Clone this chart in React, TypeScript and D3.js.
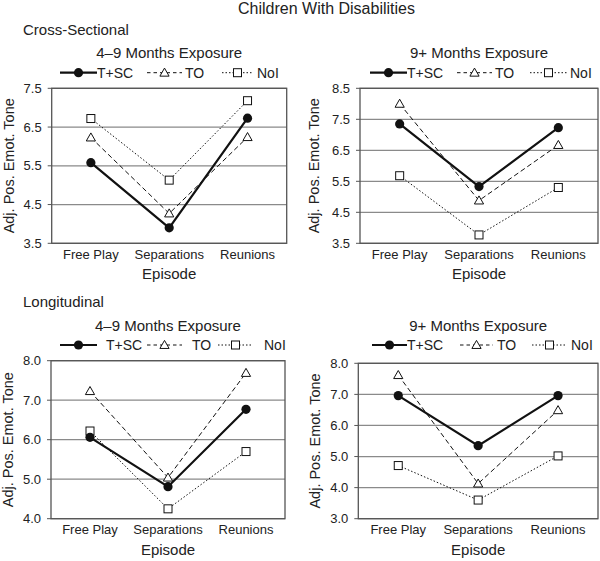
import React from "react";
import * as d3 from "d3";

const episodes = ["Free Play", "Separations", "Reunions"];
const seriesNames = ["T+SC", "TO", "NoI"];

// Cross-sectional, 4–9 months
const cs49_TSC = [5.58, 3.9, 6.73];
const cs49_TO = [6.23, 4.27, 6.24];
const cs49_NoI = [6.72, 5.13, 7.18];
// Cross-sectional, 9+ months
const cs9_TSC = [7.35, 5.33, 7.23];
const cs9_TO = [8.0, 4.88, 6.67];
const cs9_NoI = [5.68, 3.77, 5.3];
// Longitudinal, 4–9 months
const lg49_TSC = [6.06, 4.81, 6.77];
const lg49_TO = [7.23, 5.04, 7.69];
const lg49_NoI = [6.22, 4.25, 5.7];
// Longitudinal, 9+ months
const lg9_TSC = [6.96, 5.35, 6.96];
const lg9_TO = [7.62, 4.13, 6.49];
const lg9_NoI = [4.71, 3.6, 5.02];

const ticks1 = [3.5, 4.5, 5.5, 6.5, 7.5];
const ticks2 = [3.5, 4.5, 5.5, 6.5, 7.5, 8.5];
const ticks3 = [4.0, 5.0, 6.0, 7.0, 8.0];
const ticks4 = [3.0, 4.0, 5.0, 6.0, 7.0, 8.0];

const mainTitle = "Children With Disabilities";
const panelTitles = ["4\u20139 Months Exposure", "9+ Months Exposure", "4\u20139 Months Exposure", "9+ Months Exposure"];
const sectionTitles = ["Cross-Sectional", "Longitudinal"];
const yLabel = "Adj. Pos. Emot. Tone";
const xLabel = "Episode";

const FONT = "'Liberation Sans', Arial, Helvetica, sans-serif";

type Layout = {
  left: number; right: number; top: number; bottom: number;
  titleY: number; legendY: number; yLabelX: number;
  legend: { x0: number; x1: number; tx: number }[];
};

const panels = [
  {
    data: [cs49_TSC, cs49_TO, cs49_NoI], ticks: ticks1, fmt: ".1f", title: panelTitles[0],
    layout: { left: 51.7, right: 286.7, top: 88.3, bottom: 243.3, titleY: 58, legendY: 72.7, yLabelX: 8.5,
      legend: [{ x0: 60, x1: 97, tx: 97 }, { x0: 147, x1: 182, tx: 185 }, { x0: 222, x1: 253, tx: 257 }] } as Layout,
  },
  {
    data: [cs9_TSC, cs9_TO, cs9_NoI], ticks: ticks2, fmt: ".1f", title: panelTitles[1],
    layout: { left: 360, right: 598, top: 88.3, bottom: 243.3, titleY: 58, legendY: 72.7, yLabelX: 314,
      legend: [{ x0: 370, x1: 407, tx: 407 }, { x0: 457, x1: 492, tx: 495 }, { x0: 530, x1: 567, tx: 570 }] } as Layout,
  },
  {
    data: [lg49_TSC, lg49_TO, lg49_NoI], ticks: ticks3, fmt: ".1f", title: panelTitles[2],
    layout: { left: 51, right: 285, top: 360.7, bottom: 518.7, titleY: 330.7, legendY: 345, yLabelX: 8,
      legend: [{ x0: 60, x1: 97, tx: 106 }, { x0: 147, x1: 182, tx: 192 }, { x0: 218, x1: 253, tx: 264 }] } as Layout,
  },
  {
    data: [lg9_TSC, lg9_TO, lg9_NoI], ticks: ticks4, fmt: ".1f", title: panelTitles[3],
    layout: { left: 358.3, right: 598, top: 363.3, bottom: 518.7, titleY: 330.7, legendY: 345, yLabelX: 315,
      legend: [{ x0: 372, x1: 407, tx: 407 }, { x0: 460, x1: 493, tx: 497 }, { x0: 532, x1: 567, tx: 571 }] } as Layout,
  },
];

const dashes = [undefined, "5,3", "1.5,2"];
const legendDashes = [undefined, "3.5,3", "1.5,2"];
const widths = [2.2, 1, 1];

function Marker({ kind, x, y }: { kind: number; x: number; y: number }) {
  if (kind === 0) return <circle cx={x} cy={y} r={4.6} fill="#111" />;
  if (kind === 1) {
    const s = 4.6;
    const p = `M${x},${y - s} L${x + s},${y + s * 0.75} L${x - s},${y + s * 0.75} Z`;
    return <path d={p} fill="#fff" stroke="#111" strokeWidth={1} />;
  }
  return <rect x={x - 4} y={y - 4} width={8} height={8} fill="#fff" stroke="#111" strokeWidth={1} />;
}

function Panel({ p }: { p: (typeof panels)[number] }) {
  const L = p.layout;
  const x = d3.scaleBand<string>().domain(episodes).range([L.left, L.right]);
  const ext = d3.extent(p.ticks) as [number, number];
  const y = d3.scaleLinear().domain(ext).range([L.bottom, L.top]);
  const fmt = d3.format(p.fmt);
  const cx = (e: string) => (x(e) as number) + x.bandwidth() / 2;
  const line = d3.line<number>().x((_, i) => cx(episodes[i])).y((v) => y(v));
  const midX = (L.left + L.right) / 2;
  const midY = (L.top + L.bottom) / 2;
  return (
    <g>
      <text x={midX} y={L.titleY} textAnchor="middle" fontSize={15} fill="#222">{p.title}</text>
      {seriesNames.map((n, i) => {
        const it = L.legend[i];
        return (
          <g key={n}>
            <line x1={it.x0} x2={it.x1} y1={L.legendY} y2={L.legendY} stroke="#111"
              strokeWidth={i === 0 ? 2.2 : 1} strokeDasharray={legendDashes[i]} />
            <Marker kind={i} x={(it.x0 + it.x1) / 2} y={L.legendY} />
            <text x={it.tx} y={L.legendY + 5} fontSize={14} fill="#222">{n}</text>
          </g>
        );
      })}
      {p.ticks.map((t) => (
        <g key={t}>
          <line x1={L.left} x2={L.right} y1={y(t)} y2={y(t)} stroke="#8a8a8a" strokeWidth={1.3} />
          <line x1={L.left - 4} x2={L.left} y1={y(t)} y2={y(t)} stroke="#555" strokeWidth={1} />
          <text x={L.left - 10} y={y(t) + 4.5} textAnchor="end" fontSize={13} fill="#222">{fmt(t)}</text>
        </g>
      ))}
      <rect x={L.left} y={L.top} width={L.right - L.left} height={L.bottom - L.top} fill="none" stroke="#555" strokeWidth={1.3} />
      {episodes.map((e) => (
        <text key={e} x={cx(e)} y={L.bottom + 15.5} textAnchor="middle" fontSize={13} fill="#222">{e}</text>
      ))}
      <text x={midX} y={L.bottom + 36} textAnchor="middle" fontSize={15} fill="#222">{xLabel}</text>
      <text transform={`translate(${L.yLabelX},${midY}) rotate(-90)`} textAnchor="middle" dominantBaseline="central"
        fontSize={14.5} fill="#222">{yLabel}</text>
      {[2, 1, 0].map((si) => (
        <g key={si}>
          <path d={line(p.data[si]) as string} fill="none" stroke="#111" strokeWidth={widths[si]} strokeDasharray={dashes[si]} />
          {p.data[si].map((v, i) => (
            <Marker key={i} kind={si} x={cx(episodes[i])} y={y(v)} />
          ))}
        </g>
      ))}
    </g>
  );
}

export default function App() {
  return (
    <svg width={600} height={561} style={{ position: "absolute", left: 0, top: 0, background: "#fff" }} fontFamily={FONT}>
      <rect width={600} height={561} fill="#fff" />
      <text x={326.5} y={14} textAnchor="middle" fontSize={16} fill="#222">{mainTitle}</text>
      <text x={23} y={35} fontSize={15} fill="#222">{sectionTitles[0]}</text>
      <text x={23} y={307} fontSize={15} fill="#222">{sectionTitles[1]}</text>
      {panels.map((p, i) => (
        <Panel key={i} p={p} />
      ))}
    </svg>
  );
}
